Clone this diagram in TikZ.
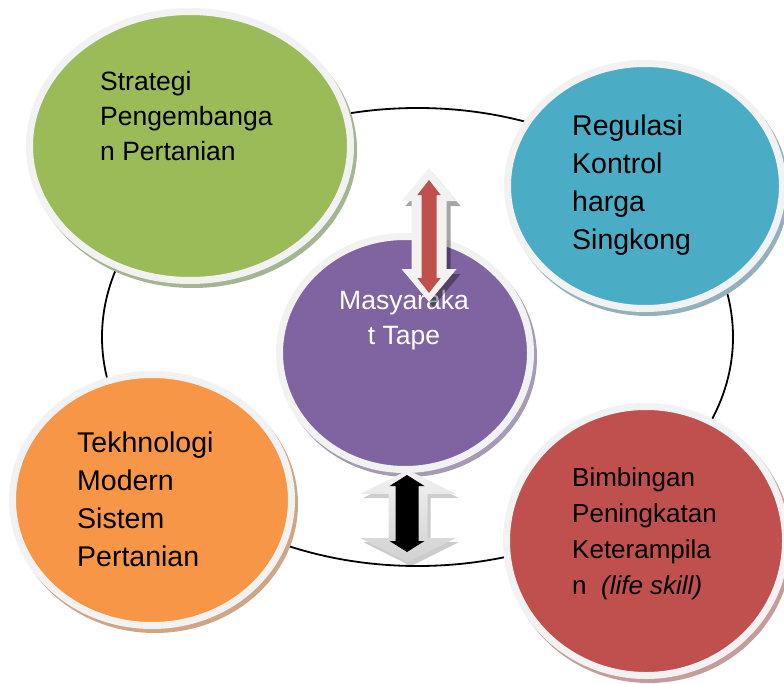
\documentclass[tikz,border=0pt]{standalone}
\usepackage{fontspec}
\setmainfont{Liberation Sans}
\usetikzlibrary{shapes.geometric}
\definecolor{ringc}{HTML}{F2F2F2}
\definecolor{cgreen}{HTML}{9BBB59}
\definecolor{cblue}{HTML}{4BACC6}
\definecolor{cpurple}{HTML}{8064A2}
\definecolor{corange}{HTML}{F79646}
\definecolor{cred}{HTML}{C0504D}
\definecolor{sgreen}{RGB}{165,180,145}
\definecolor{sblue}{RGB}{145,178,188}
\definecolor{sorange}{RGB}{208,165,132}
\definecolor{sred}{RGB}{198,155,155}
\definecolor{spurple}{RGB}{165,155,182}
\begin{document}
\begin{tikzpicture}[x=1bp,y=-1bp,
  bub/.style={ellipse, draw=ringc, line width=7bp, inner sep=0pt},
  txt/.style={inner sep=0pt, align=left, anchor=north west, text=black},
  ring/.style={draw=black, line width=1.8bp}]
\useasboundingbox (0,0) rectangle (784,684);
% outer cycle
\node[ellipse, ring, minimum width=631bp, minimum height=458bp, inner sep=0pt] (cyc) at (417.5,337) {};
% green
\fill[sgreen] (193,150) ellipse [x radius=164, y radius=138];
\node[bub, fill=cgreen, minimum width=321bp, minimum height=269bp] (g) at (190,146) {};
% blue
\fill[sblue] (648,190) ellipse [x radius=141, y radius=126];
\node[bub, fill=cblue, minimum width=275bp, minimum height=245bp] (b) at (645,186) {};
% orange
\fill[sorange] (155,504) ellipse [x radius=143, y radius=129];
\node[bub, fill=corange, minimum width=279bp, minimum height=251bp] (o) at (152,500) {};
% red
\fill[sred] (649,545) ellipse [x radius=143, y radius=138];
\node[bub, fill=cred, minimum width=279bp, minimum height=269bp] (r) at (646,541) {};
% purple
\fill[spurple] (408,357) ellipse [x radius=129, y radius=120];
\node[bub, fill=cpurple, minimum width=251bp, minimum height=233bp] (p) at (405,353) {};
% texts
\node[txt, font=\fontsize{26.5bp}{35bp}\selectfont] (gt) at (100,71) {Strategi\\Pengembanga\\n Pertanian};
\node[txt, font=\fontsize{28.5bp}{38bp}\selectfont] (bt) at (572,115) {Regulasi\\Kontrol\\harga\\Singkong};
\node[txt, font=\fontsize{28.5bp}{38bp}\selectfont] (ot) at (77,432) {Tekhnologi\\Modern\\Sistem\\Pertanian};
\node[txt, font=\fontsize{26bp}{36bp}\selectfont] (rt) at (572,467) {Bimbingan\\Peningkatan\\Keterampila\\n\ \ \textit{(life skill)}};
\node[inner sep=0pt, align=center, anchor=north, text=white, font=\fontsize{26.5bp}{35bp}\selectfont] (pt) at (404,290) {Masyaraka\\t Tape};
% red double arrow (upper)
\fill[black, opacity=0.35, shift={(4,5)}] (429,168) -- (456.5,201) -- (446.5,201) -- (446.5,269) -- (456.5,269) -- (429,302) -- (401.5,269) -- (411.5,269) -- (411.5,201) -- (401.5,201) -- cycle;
\fill[ringc] (429,168) -- (456.5,201) -- (446.5,201) -- (446.5,269) -- (456.5,269) -- (429,302) -- (401.5,269) -- (411.5,269) -- (411.5,201) -- (401.5,201) -- cycle;
\fill[cred] (429,180) -- (440.7,195) -- (436.5,195) -- (436.5,278) -- (440.7,278) -- (429,293) -- (417.3,278) -- (421.5,278) -- (421.5,195) -- (417.3,195) -- cycle;
% black double arrow (lower)
\fill[black, opacity=0.2, shift={(3,4)}] (408,470) -- (456,494) -- (427.5,494) -- (427.5,538) -- (456,538) -- (408,562) -- (360,538) -- (388.5,538) -- (388.5,494) -- (360,494) -- cycle;
\shade[top color=ringc, bottom color=black!18] (408,470) -- (456,494) -- (427.5,494) -- (427.5,538) -- (456,538) -- (408,562) -- (360,538) -- (388.5,538) -- (388.5,494) -- (360,494) -- cycle;
\fill[black] (407,475) -- (424.5,486) -- (418.5,486) -- (418.5,541) -- (424.5,541) -- (407,552) -- (389.5,541) -- (395.5,541) -- (395.5,486) -- (389.5,486) -- cycle;
\end{tikzpicture}
\end{document}
